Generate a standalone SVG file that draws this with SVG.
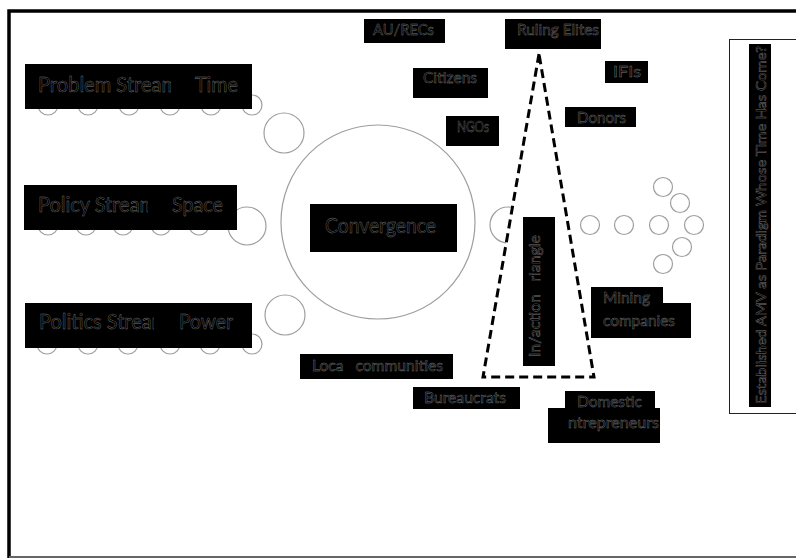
<svg xmlns="http://www.w3.org/2000/svg" width="796" height="558" viewBox="0 0 796 558">
<style>
.t{font-family:Lato,"Liberation Sans",sans-serif;fill:#000;stroke:#7a7a7a;stroke-width:0.42;white-space:pre;}
.big{font-size:21px;}
.sm{font-size:15px;}
.c{fill:none;stroke:#9e9e9e;stroke-width:1.2;}
.bx{fill:#000;}
</style>
<defs>
<clipPath id="clipProb"><rect x="30" y="60" width="141" height="50"/></clipPath>
<clipPath id="clipPol"><rect x="30" y="180" width="118" height="50"/></clipPath>
<clipPath id="clipPoli"><rect x="30" y="300" width="124" height="50"/></clipPath>
</defs>
<rect x="0" y="0" width="796" height="558" fill="#fff"/>
<g id="frame">
<path d="M9 560 V11 H800" fill="none" stroke="#000" stroke-width="3.5"/>
<line x1="9" y1="557" x2="796" y2="557" stroke="#666" stroke-width="2"/>
</g>
<g id="problem-stream">
<circle class="c" cx="48" cy="105" r="10"/><circle class="c" cx="88" cy="105" r="10"/><circle class="c" cx="129" cy="105" r="10"/><circle class="c" cx="170" cy="105" r="10"/><circle class="c" cx="211" cy="105" r="10"/><circle class="c" cx="252" cy="105" r="10"/>
<circle class="c" cx="284" cy="133" r="20"/>
<rect class="bx" x="25" y="64" width="227" height="45"/>
<text class="t big" x="38" y="92" textLength="140" lengthAdjust="spacingAndGlyphs" clip-path="url(#clipProb)">Problem Stream</text>
<text class="t big" x="195" y="92" textLength="43" lengthAdjust="spacingAndGlyphs">Time</text>
</g>
<g id="policy-stream">
<circle class="c" cx="48" cy="225" r="10"/><circle class="c" cx="86" cy="225" r="10"/><circle class="c" cx="123" cy="225" r="10"/><circle class="c" cx="161" cy="225" r="10"/><circle class="c" cx="199" cy="225" r="10"/>
<circle class="c" cx="247" cy="226" r="19"/>
<rect class="bx" x="24" y="185" width="213" height="45"/>
<text class="t big" x="38" y="212" textLength="118" lengthAdjust="spacingAndGlyphs" clip-path="url(#clipPol)">Policy Stream</text>
<text class="t big" x="172" y="212" textLength="51" lengthAdjust="spacingAndGlyphs">Space</text>
</g>
<g id="politics-stream">
<circle class="c" cx="47" cy="344" r="10"/><circle class="c" cx="88" cy="344" r="10"/><circle class="c" cx="128" cy="344" r="10"/><circle class="c" cx="170" cy="344" r="10"/><circle class="c" cx="210" cy="344" r="10"/><circle class="c" cx="252" cy="344" r="10"/>
<circle class="c" cx="285" cy="315" r="20"/>
<rect class="bx" x="25" y="303" width="227" height="45"/>
<text class="t big" x="39" y="329" textLength="129" lengthAdjust="spacingAndGlyphs" clip-path="url(#clipPoli)">Politics Stream</text>
<text class="t big" x="179" y="329" textLength="54" lengthAdjust="spacingAndGlyphs">Power</text>
</g>
<g id="convergence">
<circle class="c" cx="378" cy="222" r="97"/>
<rect class="bx" x="310" y="204" width="147" height="48"/>
<text class="t big" x="325" y="233" textLength="111" lengthAdjust="spacingAndGlyphs">Convergence</text>
</g>
<g id="outcome-circles">
<circle class="c" cx="508" cy="225" r="18"/>
<circle class="c" cx="590" cy="225" r="9.5"/><circle class="c" cx="624" cy="225" r="9.5"/><circle class="c" cx="659" cy="225" r="9.5"/><circle class="c" cx="694" cy="225" r="9.5"/>
<circle class="c" cx="663" cy="187" r="9.5"/><circle class="c" cx="680" cy="203" r="9.5"/><circle class="c" cx="682" cy="247" r="9.5"/><circle class="c" cx="663" cy="264" r="9.5"/>
</g>
<g id="connectors">
<polygon points="539,54 483,377 594,377" fill="#fff" stroke="#000" stroke-width="3" stroke-dasharray="9,5"/>
</g>
<g id="interaction-triangle">
<rect class="bx" x="523" y="217" width="32" height="149"/>
<text class="t sm" transform="translate(540,357) rotate(-90)" x="0" y="0" textLength="122" lengthAdjust="spacingAndGlyphs" xml:space="preserve">In/action   riangle</text>
</g>
<g id="au-recs"><rect class="bx" x="364" y="19" width="81" height="24"/><text class="t sm" x="373" y="35" textLength="61" lengthAdjust="spacingAndGlyphs">AU/RECs</text></g>
<g id="ruling-elites"><rect class="bx" x="505" y="19" width="96" height="30"/><text class="t sm" x="517" y="35" textLength="82" lengthAdjust="spacingAndGlyphs">Ruling Elites</text></g>
<g id="citizens"><rect class="bx" x="413" y="68" width="75" height="30"/><text class="t sm" x="423" y="83" textLength="54" lengthAdjust="spacingAndGlyphs">Citizens</text></g>
<g id="ifis"><rect class="bx" x="605" y="61" width="43" height="22"/><text class="t sm" x="613" y="77" textLength="28" lengthAdjust="spacingAndGlyphs">IFIs</text></g>
<g id="donors"><rect class="bx" x="565" y="107" width="71" height="20"/><text class="t sm" x="577" y="123" textLength="49" lengthAdjust="spacingAndGlyphs">Donors</text></g>
<g id="ngos"><rect class="bx" x="446" y="116" width="53" height="30"/><text class="t sm" x="457" y="132" textLength="32" lengthAdjust="spacingAndGlyphs">NGOs</text></g>
<g id="local-communities"><rect class="bx" x="300" y="354" width="153" height="25"/><text class="t sm" x="312" y="371" textLength="131" lengthAdjust="spacingAndGlyphs" xml:space="preserve">Loca   communities</text></g>
<g id="bureaucrats"><rect class="bx" x="413" y="387" width="107" height="22"/><text class="t sm" x="424" y="403" textLength="82" lengthAdjust="spacingAndGlyphs">Bureaucrats</text></g>
<g id="mining-companies">
<polygon class="bx" points="591,287 663,287 663,303 691,303 691,338 591,338"/>
<text class="t sm" x="603" y="303" textLength="47" lengthAdjust="spacingAndGlyphs">Mining</text>
<text class="t sm" x="603" y="326" textLength="72" lengthAdjust="spacingAndGlyphs">companies</text>
</g>
<g id="domestic-entrepreneurs">
<polygon class="bx" points="565,391 655,391 655,408 660,408 660,443 548,443 548,408 565,408"/>
<text class="t sm" x="577" y="407" textLength="65" lengthAdjust="spacingAndGlyphs">Domestic</text>
<text class="t sm" x="568" y="428" textLength="91" lengthAdjust="spacingAndGlyphs">ntrepreneurs</text>
</g>
<g id="paradigm">
<rect x="729.5" y="39.5" width="80" height="374" fill="#fff" stroke="#222" stroke-width="1"/>
<rect class="bx" x="749" y="44" width="22" height="363"/>
<text class="t" style="font-size:14px" transform="translate(766,404) rotate(-90)" x="0" y="0" textLength="358" lengthAdjust="spacingAndGlyphs">Established AMV as Paradigm Whose Time Has Come?</text>
</g>
</svg>
